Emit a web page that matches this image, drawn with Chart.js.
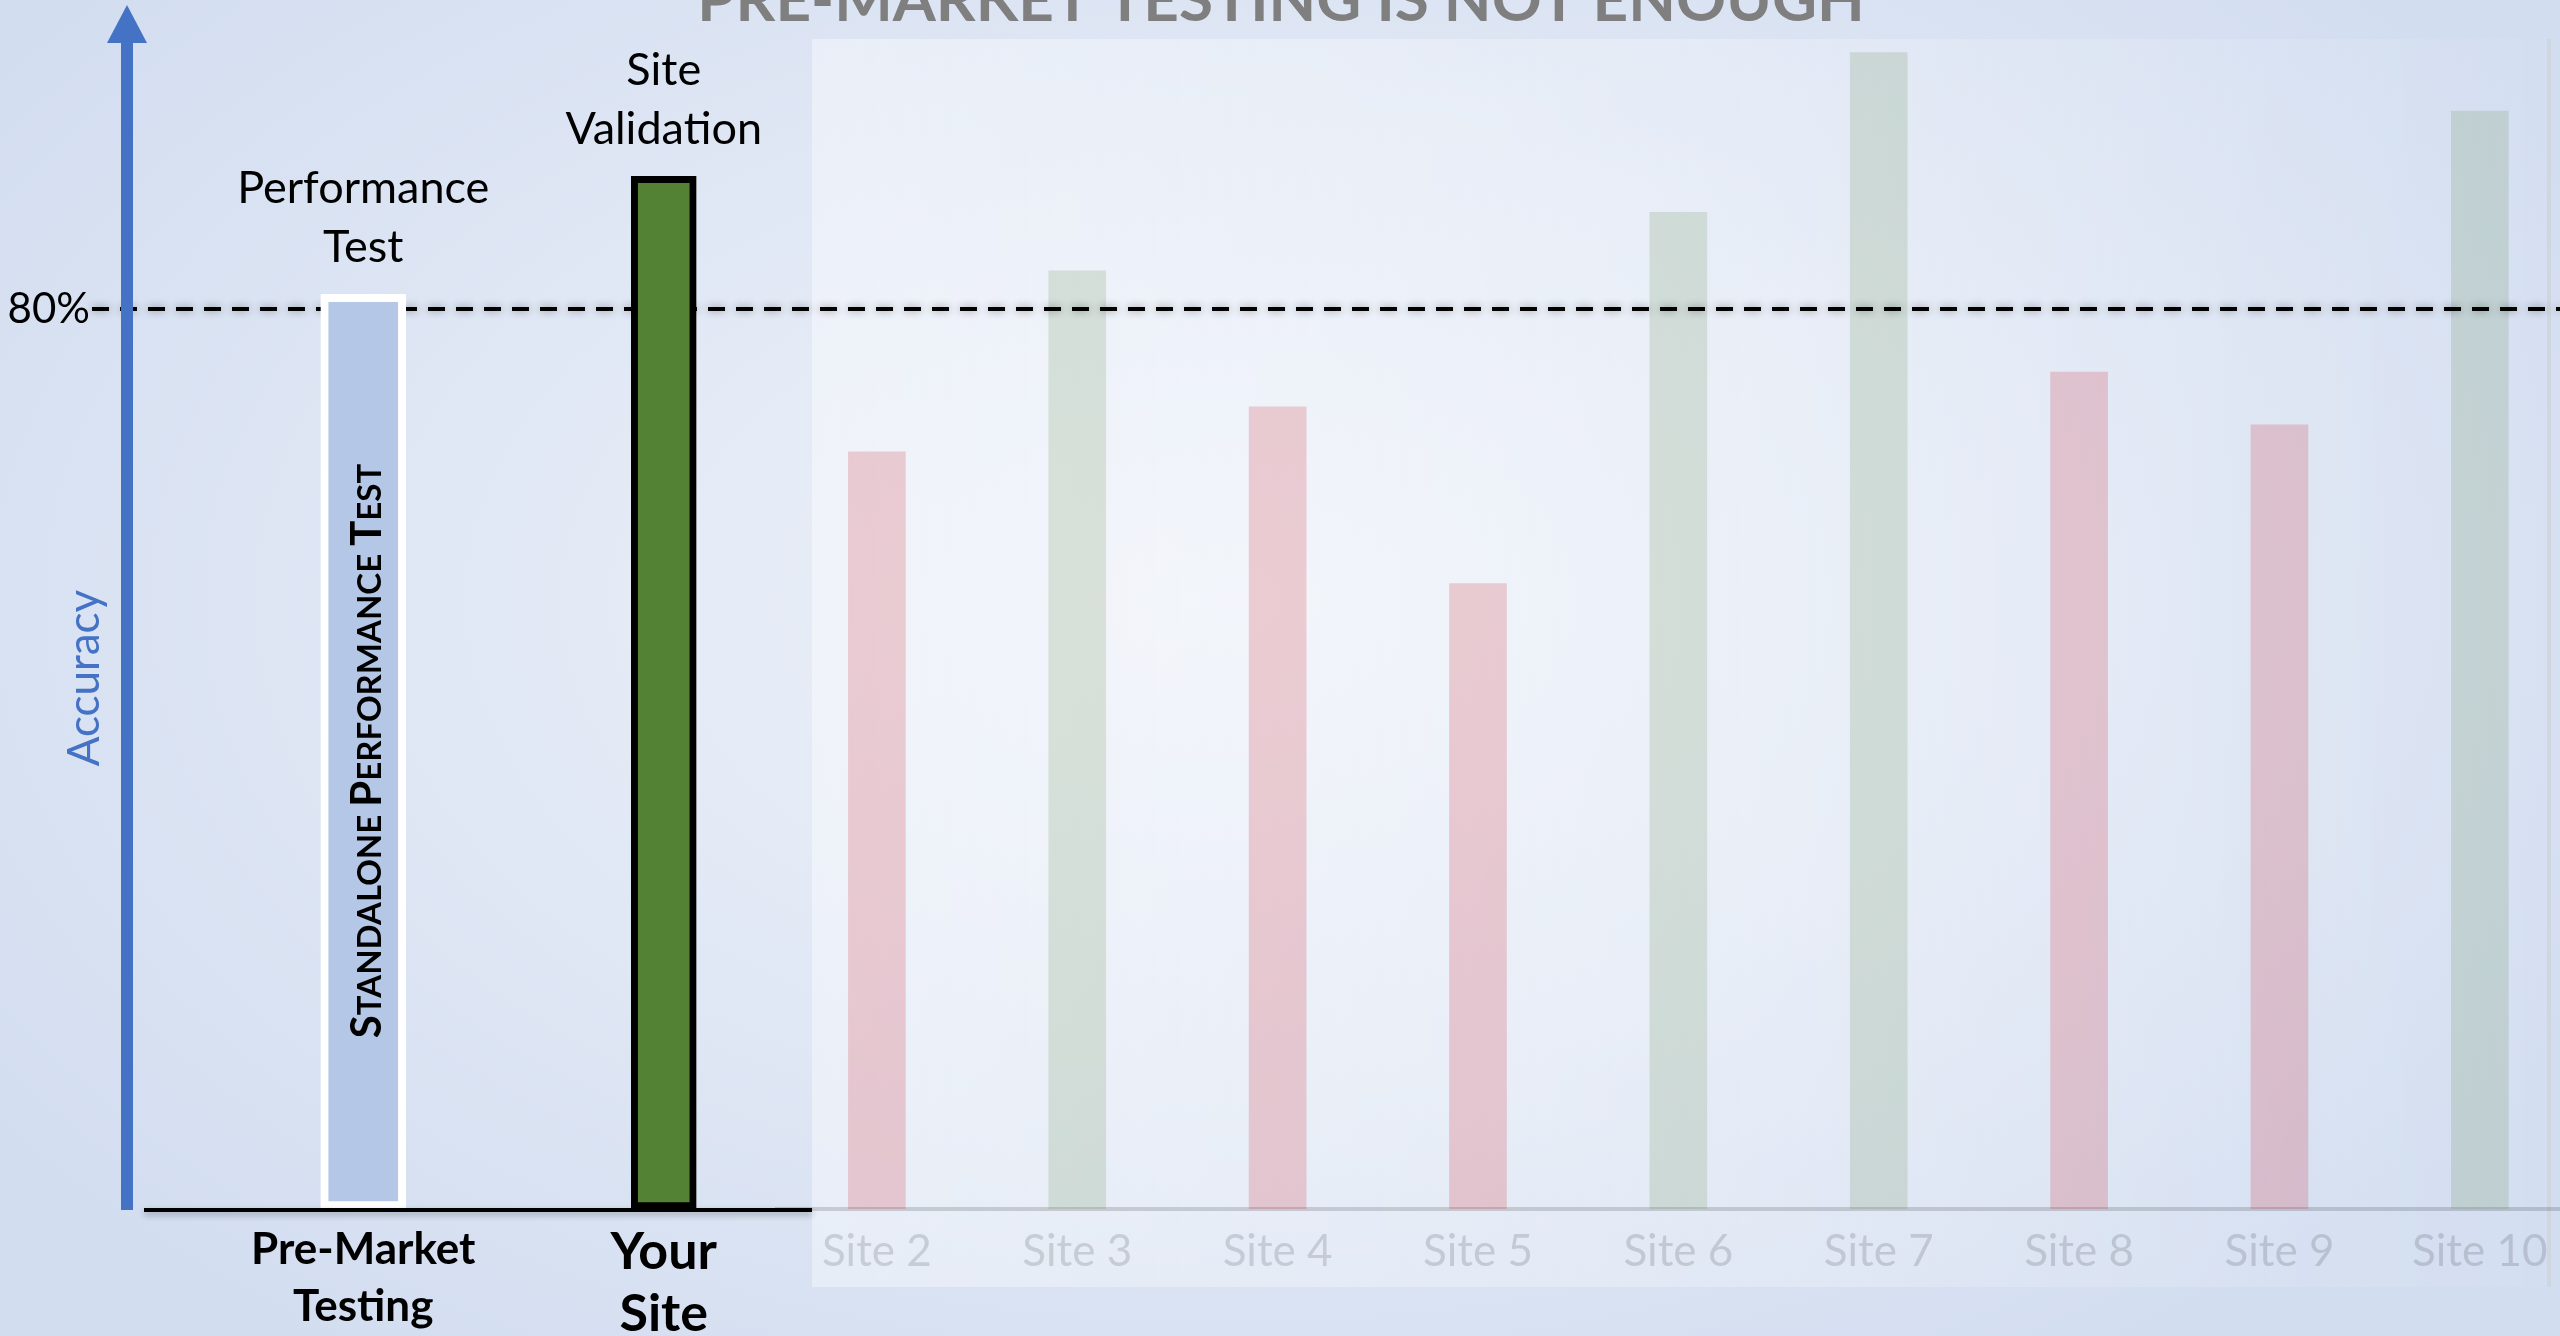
<!DOCTYPE html>
<html>
<head>
<meta charset="utf-8">
<script src="https://cdn.jsdelivr.net/npm/chart.js@4.4.1/dist/chart.umd.min.js"></script>
<style>
    html, body {
        margin: 0;
        padding: 0;
        width: 2560px;
        height: 1336px;
        overflow: hidden;
    }
    body {
        position: relative;
        background: radial-gradient(ellipse 60% 70% at 48% 45%, #EDF1F9 0%, #E1E8F5 50%, #D2DDF0 100%);
    }
    #panel {
        position: absolute;
        left: 812px;
        top: 39px;
        width: 1735px;
        height: 1248px;
        background: linear-gradient(to right, rgba(255, 255, 255, 0.38), rgba(255, 255, 255, 0.22) 60%, rgba(255, 255, 255, 0.04));
        border-right: 4px solid rgba(205, 210, 220, 0.85);
    }
    .wrap {
        position: absolute;
        left: 0;
        top: 0;
        height: 1336px;
    }
    #sitesWrap { width: 2600px; }
    #mainWrap { width: 2560px; }
</style>
</head>
<body>
<div id="panel"></div>
<div class="wrap" id="sitesWrap"><canvas id="sitesChart"></canvas></div>
<div class="wrap" id="mainWrap"><canvas id="mainChart"></canvas></div>
<script>
const mainLabels = [['Pre-Market', 'Testing'], ['Your', 'Site']];
const mainValues = [81.3, 91.8];
const mainNotes = [['Performance', 'Test'], ['Site', 'Validation']];

const siteLabels = ['Site 2', 'Site 3', 'Site 4', 'Site 5', 'Site 6', 'Site 7', 'Site 8', 'Site 9', 'Site 10'];
const siteValues = [67.3, 83.4, 71.3, 55.6, 88.6, 102.8, 74.4, 69.7, 97.6];

const threshold = 80;
const yMax = 107;

// same vertical frame for both charts
const padTop = 5.25;
const axisHeight = 127;

// decorations for the main chart: title, arrow axis, 80% line, notes
const decorations = {
    id: 'decorations',
    beforeDatasetsDraw(chart) {
        const ctx = chart.ctx;
        const y = chart.scales.y.getPixelForValue(threshold);
        ctx.save();
        ctx.strokeStyle = '#000';
        ctx.lineWidth = 4;
        ctx.setLineDash([17, 11]);
        ctx.shadowColor = 'rgba(0,0,0,0.4)';
        ctx.shadowBlur = 9;
        ctx.beginPath();
        ctx.moveTo(92, y);
        ctx.lineTo(2560, y);
        ctx.stroke();
        ctx.restore();

        ctx.save();
        ctx.font = '42px Lato';
        ctx.fillStyle = '#000';
        ctx.textAlign = 'right';
        ctx.textBaseline = 'middle';
        ctx.fillText(threshold + '%', 90, y);
        ctx.restore();
    },
    afterDraw(chart) {
        const ctx = chart.ctx;
        const base = chart.scales.y.getPixelForValue(0);

        // title, cut at the top edge
        ctx.save();
        ctx.font = 'bold 62px Lato';
        ctx.fillStyle = '#7F7F7F';
        ctx.textAlign = 'center';
        ctx.textBaseline = 'alphabetic';
        ctx.fillText('PRE-MARKET TESTING IS NOT ENOUGH', 1281, 21);
        ctx.restore();

        // black base line
        ctx.save();
        ctx.strokeStyle = '#000';
        ctx.lineWidth = 4;
        ctx.shadowColor = 'rgba(0,0,0,0.3)';
        ctx.shadowBlur = 6;
        ctx.shadowOffsetY = 3;
        ctx.beginPath();
        ctx.moveTo(144, base + 1);
        ctx.lineTo(812, base + 1);
        ctx.stroke();
        ctx.restore();

        // blue arrow axis
        ctx.save();
        ctx.fillStyle = '#4472C4';
        ctx.fillRect(121, 40, 12, base + 1 - 40);
        ctx.beginPath();
        ctx.moveTo(127, 5);
        ctx.lineTo(147, 43);
        ctx.lineTo(107, 43);
        ctx.closePath();
        ctx.fill();

        ctx.translate(85, 678);
        ctx.rotate(-Math.PI / 2);
        ctx.font = '44px Lato';
        ctx.textAlign = 'center';
        ctx.textBaseline = 'middle';
        ctx.fillText('Accuracy', 0, 0);
        ctx.restore();

        // notes above the two bars
        ctx.save();
        ctx.font = '45px Lato';
        ctx.fillStyle = '#000';
        ctx.textAlign = 'center';
        ctx.textBaseline = 'middle';
        mainNotes.forEach((lines, i) => {
            const bar = chart.getDatasetMeta(i).data[i];
            lines.forEach((t, k) => {
                ctx.fillText(t, bar.x, bar.y - 47 - (lines.length - 1 - k) * 59);
            });
        });
        ctx.restore();

        // small caps text inside the pre-market bar
        const bar0 = chart.getDatasetMeta(0).data[0];
        drawSmallCaps(ctx, 'Standalone Performance Test', bar0.x + 3, 751, 42, 33);
    }
};

function drawSmallCaps(ctx, text, x, y, big, small) {
    const parts = [];
    text.split(' ').forEach((w, i) => {
        if (i > 0) parts.push({ t: ' ', s: small });
        parts.push({ t: w[0], s: big });
        parts.push({ t: w.slice(1).toUpperCase(), s: small });
    });
    ctx.save();
    ctx.translate(x, y);
    ctx.rotate(-Math.PI / 2);
    ctx.fillStyle = '#000';
    ctx.textBaseline = 'alphabetic';
    ctx.textAlign = 'left';
    let total = 0;
    parts.forEach(p => {
        ctx.font = 'bold ' + p.s + 'px Lato';
        p.w = ctx.measureText(p.t).width;
        total += p.w;
    });
    let cx = -total / 2;
    parts.forEach(p => {
        ctx.font = 'bold ' + p.s + 'px Lato';
        ctx.fillText(p.t, cx, big * 0.36);
        cx += p.w;
    });
    ctx.restore();
}

new Chart(document.getElementById('mainChart'), {
    type: 'bar',
    data: {
        labels: mainLabels,
        datasets: [{
            data: [mainValues[0], null],
            backgroundColor: '#B4C7E7',
            borderColor: '#FFFFFF',
            borderWidth: 8,
            borderSkipped: false,
            barThickness: 85,
            grouped: false
        }, {
            data: [null, mainValues[1]],
            backgroundColor: '#548235',
            borderColor: '#000000',
            borderWidth: 7,
            borderSkipped: false,
            barThickness: 65,
            grouped: false
        }]
    },
    options: {
        responsive: true,
        maintainAspectRatio: false,
        animation: false,
        layout: {
            padding: { left: 213, right: 2560 - 814, top: padTop, bottom: 0 }
        },
        plugins: {
            legend: { display: false },
            tooltip: { enabled: false }
        },
        scales: {
            x: {
                grid: { display: false, drawTicks: false },
                border: { display: false },
                afterFit: (scale) => { scale.height = axisHeight; },
                ticks: {
                    padding: 12,
                    color: '#000',
                    autoSkip: false,
                    maxRotation: 0,
                    font: (c) => c.index === 1
                        ? { family: 'Lato', size: 52, weight: 'bold', lineHeight: 1.2 }
                        : { family: 'Lato', size: 44, weight: 'bold', lineHeight: 1.3 }
                }
            },
            y: {
                display: false,
                min: 0,
                max: yMax
            }
        }
    },
    plugins: [decorations]
});

new Chart(document.getElementById('sitesChart'), {
    type: 'bar',
    data: {
        labels: siteLabels,
        datasets: [{
            data: siteValues,
            backgroundColor: (c) => c.raw >= threshold ? 'rgba(84,130,53,0.165)' : 'rgba(200,0,10,0.17)',
            borderWidth: 0,
            barThickness: 57
        }]
    },
    options: {
        responsive: true,
        maintainAspectRatio: false,
        animation: false,
        layout: {
            padding: { left: 776.7, right: 2600 - 2580, top: padTop, bottom: 0 }
        },
        plugins: {
            legend: { display: false },
            tooltip: { enabled: false }
        },
        scales: {
            x: {
                grid: { display: false, drawTicks: false },
                border: { display: true, color: 'rgba(0,0,0,0.15)', width: 4 },
                afterFit: (scale) => { scale.height = axisHeight; },
                ticks: {
                    padding: 16,
                    color: 'rgba(40,40,50,0.17)',
                    autoSkip: false,
                    maxRotation: 0,
                    font: { family: 'Lato', size: 44, lineHeight: 1.2 }
                }
            },
            y: {
                display: false,
                min: 0,
                max: yMax
            }
        }
    }
});
</script>
</body>
</html>
